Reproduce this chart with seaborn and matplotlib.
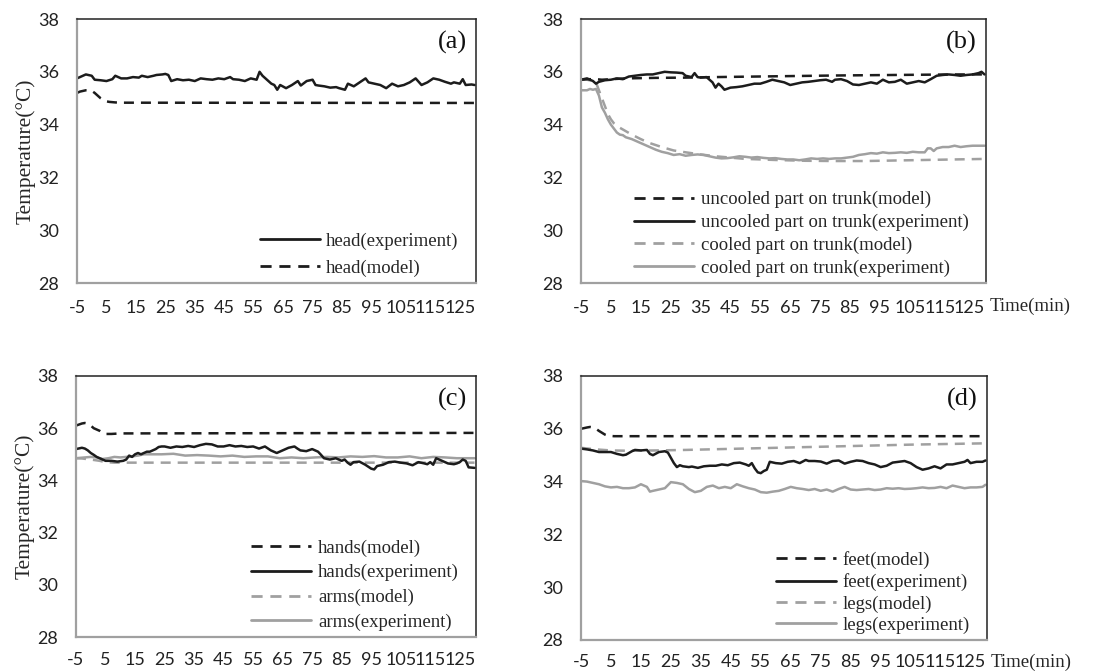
import numpy as np
import pandas as pd
import matplotlib
matplotlib.use("Agg")
import matplotlib.pyplot as plt
import seaborn as sns

# (time in min, temperature in degC)
head_exp = [(-5,35.75),(-3,35.85),(-2,35.9),(0,35.85),(1,35.7),(3,35.68),(5,35.65),(7,35.72),(8,35.85),
            (10,35.75),(12,35.75),(14,35.8),(16,35.78),(17,35.85),(19,35.8),(21,35.85),(22,35.88),(24,35.9),
            (25,35.92),(26,35.88),(27,35.65),(29,35.72),(31,35.68),(33,35.7),(35,35.65),(37,35.75),(39,35.72),
            (41,35.7),(43,35.75),(45,35.72),(47,35.8),(48,35.72),(50,35.7),(52,35.65),(54,35.75),(56,35.7),
            (57,36.0),(58,35.85),(60,35.65),(61,35.55),(62,35.5),(63,35.32),(64,35.5),(66,35.38),(68,35.5),
            (70,35.65),(71,35.48),(73,35.65),(75,35.7),(76,35.5),(77,35.48),(79,35.45),(81,35.4),(83,35.42),
            (84,35.38),(86,35.32),(87,35.55),(89,35.45),(91,35.6),(93,35.75),(94,35.6),(96,35.55),(98,35.5),
            (100,35.38),(102,35.55),(104,35.45),(106,35.5),(108,35.6),(110,35.75),(112,35.5),(114,35.6),
            (116,35.75),(118,35.7),(120,35.62),(122,35.55),(123,35.6),(125,35.55),(126,35.72),(127,35.5),
            (129,35.52),(130,35.5)]
head_model = [(-5,35.2),(-4,35.25),(-2,35.3),(-1,35.3),(0,35.28),(1,35.2),(2,35.1),(3,35.0),(4,34.93),
              (5,34.88),(6,34.86),(8,34.84),(10,34.83),(130,34.82)]

uncooled_model = [(-5,35.7),(-3,35.72),(0,35.72),(2,35.7),(5,35.72),(10,35.75),(20,35.77),(30,35.78),
                  (40,35.8),(60,35.83),(80,35.86),(100,35.88),(120,35.9),(130,35.9)]
uncooled_exp = [(-5,35.7),(-3,35.75),(-1,35.65),(0,35.55),(1,35.62),(3,35.68),(5,35.7),(7,35.75),(9,35.72),
                (11,35.82),(13,35.85),(15,35.88),(17,35.9),(19,35.9),(21,35.95),(23,36.0),(25,35.98),(27,35.97),
                (29,35.95),(30,35.85),(32,35.8),(33,35.95),(34,35.8),(35,35.78),(37,35.8),(38,35.7),(39,35.6),
                (40,35.4),(41,35.55),(42,35.45),(43,35.32),(45,35.4),(47,35.42),(49,35.45),(51,35.5),(53,35.55),
                (55,35.55),(57,35.62),(59,35.7),(61,35.65),(63,35.6),(65,35.5),(67,35.55),(69,35.6),(71,35.62),
                (73,35.65),(75,35.68),(77,35.7),(79,35.62),(80,35.7),(82,35.72),(84,35.65),(86,35.52),(88,35.5),
                (90,35.55),(92,35.6),(94,35.55),(96,35.7),(98,35.6),(100,35.62),(102,35.7),(104,35.55),(106,35.6),
                (108,35.65),(110,35.6),(112,35.72),(114,35.85),(116,35.88),(118,35.9),(120,35.88),(122,35.85),
                (124,35.88),(126,35.9),(128,35.95),(129,36.0),(130,35.9)]
cooled_model = [(-5,35.72),(-3,35.7),(-1,35.65),(0,35.6),(1,35.3),(2,35.0),(3,34.7),(4,34.4),(5,34.2),(6,34.05),
                (8,33.88),(10,33.75),(12,33.62),(15,33.45),(18,33.3),(22,33.15),(26,33.02),(30,32.95),(35,32.87),
                (40,32.8),(45,32.75),(50,32.7),(60,32.66),(70,32.63),(80,32.62),(90,32.62),(100,32.64),
                (110,32.66),(120,32.68),(130,32.7)]
cooled_exp = [(-5,35.3),(-3,35.3),(-2,35.35),(-1,35.32),(0,35.35),(1,35.1),(2,34.65),(3,34.45),(4,34.2),(5,34.0),
              (6,33.85),(7,33.7),(8,33.62),(9,33.6),(10,33.52),(12,33.45),(14,33.35),(16,33.25),(18,33.15),
              (20,33.05),(22,32.97),(24,32.92),(26,32.85),(28,32.88),(30,32.82),(32,32.85),(34,32.87),(36,32.85),
              (38,32.8),(40,32.75),(42,32.72),(44,32.73),(46,32.76),(48,32.8),(50,32.78),(52,32.75),(54,32.77),
              (56,32.74),(58,32.72),(60,32.73),(62,32.7),(64,32.68),(66,32.68),(68,32.65),(70,32.68),(72,32.72),
              (74,32.7),(76,32.72),(78,32.7),(80,32.72),(82,32.72),(84,32.75),(86,32.78),(88,32.85),(90,32.88),
              (92,32.92),(94,32.9),(96,32.95),(98,32.92),(100,32.93),(102,32.95),(104,32.93),(106,32.97),
              (108,32.95),(110,32.95),(111,33.1),(112,33.1),(113,33.0),(114,33.1),(116,33.15),(118,33.15),
              (120,33.2),(122,33.15),(124,33.18),(126,33.2),(128,33.2),(130,33.2)]

hands_model = [(-5,36.1),(-3,36.18),(-2,36.2),(-1,36.18),(0,36.1),(1,36.0),(2,35.95),(3,35.9),(4,35.82),
               (5,35.78),(7,35.78),(10,35.8),(130,35.82)]
hands_exp = [(-5,35.2),(-3,35.25),(-2,35.22),(-1,35.15),(0,35.05),(1,34.98),(2,34.9),(3,34.85),(5,34.75),
             (7,34.75),(9,34.72),(11,34.75),(12,34.8),(13,34.95),(14,34.9),(15,35.0),(16,35.05),(17,35.0),
             (18,35.05),(19,35.1),(20,35.1),(21,35.15),(22,35.2),(23,35.28),(24,35.3),(25,35.3),(27,35.25),
             (29,35.3),(31,35.28),(33,35.32),(35,35.28),(37,35.35),(39,35.4),(41,35.38),(43,35.3),(45,35.3),
             (47,35.35),(49,35.3),(51,35.32),(53,35.28),(55,35.3),(57,35.22),(59,35.3),(61,35.15),(63,35.05),
             (65,35.15),(67,35.25),(69,35.3),(70,35.22),(71,35.15),(73,35.12),(75,35.2),(77,35.1),(78,34.98),
             (79,34.85),(81,34.8),(83,34.85),(85,34.75),(86,34.8),(87,34.68),(88,34.6),(89,34.7),(91,34.72),
             (93,34.6),(95,34.45),(96,34.42),(97,34.55),(99,34.6),(101,34.7),(103,34.72),(105,34.68),(107,34.65),
             (109,34.58),(111,34.7),(113,34.65),(114,34.62),(115,34.7),(116,34.6),(117,34.85),(119,34.75),
             (121,34.65),(123,34.62),(124,34.65),(125,34.7),(126,34.8),(127,34.75),(128,34.5),(130,34.48)]
arms_model = [(-5,34.85),(-3,34.84),(0,34.8),(3,34.75),(5,34.7),(8,34.68),(130,34.68)]
arms_exp = [(-5,34.85),(-2,34.88),(0,34.9),(2,34.88),(4,34.82),(6,34.85),(8,34.9),(10,34.88),(12,34.9),
            (14,34.92),(16,34.95),(18,35.0),(20,35.0),(24,35.0),(28,35.02),(32,34.95),(36,34.97),(40,34.95),
            (44,34.92),(48,34.95),(52,34.9),(56,34.92),(60,34.92),(64,34.85),(68,34.88),(72,34.85),(76,34.88),
            (80,34.9),(84,34.88),(88,34.92),(92,34.9),(96,34.93),(100,34.88),(104,34.88),(108,34.92),
            (112,34.85),(116,34.9),(120,34.88),(124,34.85),(128,34.85),(130,34.85)]

feet_model = [(-5,36.0),(-3,36.05),(-2,36.07),(-1,36.05),(0,36.0),(1,35.92),(2,35.85),(3,35.78),(4,35.74),
              (6,35.72),(8,35.72),(130,35.72)]
feet_exp = [(-5,35.25),(-3,35.22),(-1,35.18),(1,35.12),(3,35.12),(5,35.12),(7,35.05),(9,35.0),(10,35.02),
            (12,35.15),(13,35.2),(15,35.18),(17,35.2),(18,35.05),(19,35.0),(21,35.12),(23,35.15),(24,35.1),
            (25,34.9),(26,34.7),(27,34.55),(28,34.62),(29,34.58),(31,34.55),(32,34.57),(34,34.52),(36,34.58),
            (38,34.6),(40,34.6),(42,34.65),(44,34.62),(46,34.7),(48,34.72),(50,34.65),(51,34.6),(52,34.7),
            (53,34.5),(54,34.35),(55,34.32),(56,34.4),(57,34.45),(58,34.75),(60,34.7),(62,34.68),(64,34.75),
            (66,34.78),(68,34.7),(70,34.82),(71,34.78),(73,34.78),(75,34.76),(77,34.68),(79,34.78),(81,34.8),
            (83,34.68),(85,34.75),(87,34.8),(89,34.78),(91,34.7),(93,34.65),(95,34.55),(97,34.6),(99,34.72),
            (101,34.75),(103,34.78),(105,34.7),(107,34.55),(109,34.45),(111,34.5),(113,34.58),(115,34.5),
            (117,34.65),(119,34.65),(121,34.7),(123,34.75),(124,34.82),(125,34.7),(127,34.75),(129,34.75),
            (130,34.8)]
legs_model = [(-5,35.28),(0,35.22),(5,35.18),(10,35.17),(20,35.18),(30,35.2),(45,35.24),(60,35.28),
              (75,35.32),(90,35.36),(105,35.4),(120,35.43),(130,35.45)]
legs_exp = [(-5,34.02),(-3,34.0),(-1,33.95),(1,33.9),(3,33.82),(5,33.78),(7,33.8),(9,33.75),(11,33.75),
            (13,33.78),(15,33.9),(17,33.8),(18,33.62),(19,33.65),(21,33.7),(23,33.75),(25,33.98),(27,33.95),
            (29,33.9),(31,33.72),(33,33.6),(35,33.65),(37,33.8),(39,33.85),(41,33.75),(43,33.8),(45,33.75),
            (47,33.9),(49,33.82),(51,33.75),(53,33.7),(55,33.6),(57,33.58),(59,33.62),(61,33.65),(63,33.72),
            (65,33.8),(67,33.75),(69,33.72),(71,33.68),(73,33.72),(75,33.65),(77,33.7),(79,33.62),(81,33.72),
            (83,33.8),(85,33.7),(87,33.68),(89,33.7),(91,33.72),(93,33.68),(95,33.7),(97,33.75),(99,33.73),
            (101,33.75),(103,33.72),(105,33.73),(107,33.75),(109,33.78),(111,33.75),(113,33.76),(115,33.8),
            (117,33.75),(119,33.85),(121,33.8),(123,33.75),(125,33.78),(127,33.78),(129,33.8),(130,33.88)]

x_ticks = list(range(-5, 130, 10))
y_ticks = [28, 30, 32, 34, 36, 38]

BLACK = "#1c1c1c"
GREY = "#a0a0a0"
DASH = (4, 2.8)

sns.set_style("white")
plt.rcParams["font.family"] = ["Lato", "DejaVu Sans"]
plt.rcParams["axes.unicode_minus"] = False

W, H = 1111, 672
fig = plt.figure(figsize=(W / 100, H / 100), dpi=100)

# axes boxes in pixels: left, top, right, bottom
boxes = {
    "a": (77, 19, 476, 283),
    "b": (581, 19, 986, 283),
    "c": (76, 376, 476, 637),
    "d": (581, 376, 987, 640),
}
axes = {}
for k, (l, t, r, b) in boxes.items():
    axes[k] = fig.add_axes([l / W, 1 - b / H, (r - l) / W, (b - t) / H])


def draw(ax, pts, color, dashed, label):
    df = pd.DataFrame(pts, columns=["time", "temp"])
    sns.lineplot(data=df, x="time", y="temp", ax=ax, color=color, linewidth=1.8, label=label)
    line = ax.lines[-1]
    if dashed:
        line.set_dashes(DASH)
    line.set_solid_joinstyle("round")
    return line


panels = {
    "a": [(head_exp, BLACK, False, "head(experiment)"),
          (head_model, BLACK, True, "head(model)")],
    "b": [(uncooled_model, BLACK, True, "uncooled part on trunk(model)"),
          (uncooled_exp, BLACK, False, "uncooled part on trunk(experiment)"),
          (cooled_model, GREY, True, "cooled part on trunk(model)"),
          (cooled_exp, GREY, False, "cooled part on trunk(experiment)")],
    "c": [(hands_model, BLACK, True, "hands(model)"),
          (hands_exp, BLACK, False, "hands(experiment)"),
          (arms_model, GREY, True, "arms(model)"),
          (arms_exp, GREY, False, "arms(experiment)")],
    "d": [(feet_model, BLACK, True, "feet(model)"),
          (feet_exp, BLACK, False, "feet(experiment)"),
          (legs_model, GREY, True, "legs(model)"),
          (legs_exp, GREY, False, "legs(experiment)")],
}
spacing = {"a": 0.52, "b": 0.3, "c": 0.4, "d": 0.22}
xpad = {"a": 8, "b": 8, "c": 6, "d": 5.5}
serif = ["Liberation Serif", "DejaVu Serif"]

for k, ax in axes.items():
    handles = []
    labels = []
    # draw grey series first so black ones sit on top
    series = panels[k]
    order = [s for s in series if s[1] == GREY] + [s for s in series if s[1] == BLACK]
    made = {}
    for pts, col, dashed, lab in order:
        made[lab] = draw(ax, pts, col, dashed, lab)
    for pts, col, dashed, lab in series:
        handles.append(made[lab])
        labels.append(lab)

    ax.set_xlim(-5, 130.5)
    ax.set_ylim(28, 38)
    ax.set_xticks(x_ticks)
    ax.set_yticks(y_ticks)
    ax.set_xlabel("")
    ax.set_ylabel("")
    ax.tick_params(axis="both", direction="out", length=4.5, width=1.2, color=GREY,
                   labelsize=13, labelcolor="#222222")
    ax.tick_params(axis="x", pad=xpad[k])
    ax.tick_params(axis="y", pad=8.5)
    for side in ["left", "bottom"]:
        ax.spines[side].set_color(GREY)
        ax.spines[side].set_linewidth(1.6)
    for side in ["top", "right"]:
        ax.spines[side].set_color("#222222")
        ax.spines[side].set_linewidth(1.1)

    ax.text(0.977, 0.91, "(" + k + ")", transform=ax.transAxes, ha="right", va="center",
            fontsize=19, family=serif, color="#111111")

    leg = ax.legend(handles, labels, loc="lower right", bbox_to_anchor=(0.985, -0.02),
                    frameon=False, prop={"family": serif, "size": 13.5},
                    handlelength=3.2, handletextpad=0.35, labelspacing=spacing[k],
                    borderaxespad=0.2)
    for h in leg.legend_handles:
        h.set_linewidth(2.0)

for k in ["a", "c"]:
    axes[k].set_ylabel("Temperature(°C)", family=serif, fontsize=15.4, labelpad=2)
for k in ["b", "d"]:
    ty = -0.09 if k == "b" else -0.085
    axes[k].text(1.008, ty, "Time(min)", transform=axes[k].transAxes, ha="left", va="center",
                 family=serif, fontsize=13.5)

fig.savefig("out.png", dpi=100)
